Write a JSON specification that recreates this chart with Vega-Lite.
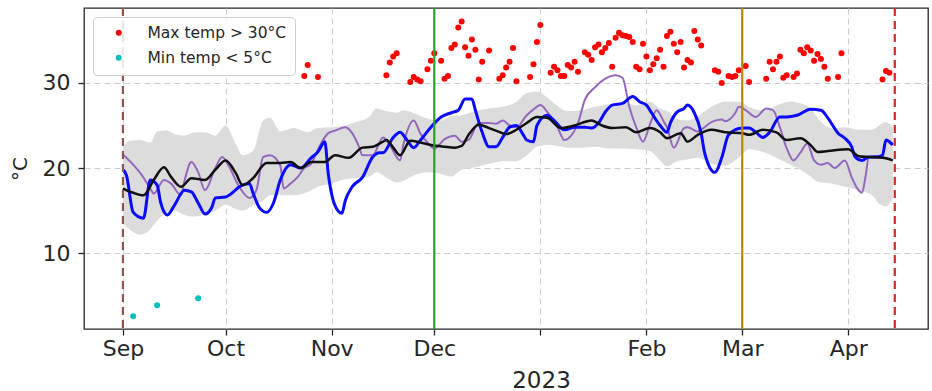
{
"$schema": "https://vega.github.io/schema/vega-lite/v6.json",
"width": 844, "height": 321,
"autosize": {"type": "none"},
"padding": {"left": 84, "top": 8, "right": 4, "bottom": 62},
"background": "white",
"config": {
  "view": {"stroke": "#262626", "strokeWidth": 1.3},
  "font": "DejaVu Sans",
  "axis": {"labelFont": "DejaVu Sans", "labelFontSize": 22, "labelColor": "#262626", "tickColor": "#262626", "tickSize": 6, "tickWidth": 1.3, "domain": false, "gridColor": "#cccccc", "gridDash": [6, 4], "gridWidth": 1, "titleFont": "DejaVu Sans", "titleFontWeight": "normal", "titleColor": "#262626"}
},
"resolve": {"scale": {"color": "independent", "strokeDash": "independent"}},
"datasets": {
"blue": [
{"date":"2022-09-01","t":19.8},{"date":"2022-09-02","t":19.2},{"date":"2022-09-04","t":14.8},{"date":"2022-09-07","t":14.1},{"date":"2022-09-09","t":18.6},{"date":"2022-09-11","t":18.0},{"date":"2022-09-12","t":16.0},{"date":"2022-09-14","t":14.5},{"date":"2022-09-16","t":15.6},{"date":"2022-09-19","t":17.4},{"date":"2022-09-21","t":17.2},{"date":"2022-09-23","t":15.9},{"date":"2022-09-25","t":14.6},{"date":"2022-09-27","t":15.4},{"date":"2022-09-28","t":16.5},{"date":"2022-10-01","t":16.6},{"date":"2022-10-03","t":17.1},{"date":"2022-10-05","t":17.8},{"date":"2022-10-08","t":18.2},{"date":"2022-10-09","t":17.1},{"date":"2022-10-11","t":15.3},{"date":"2022-10-13","t":14.8},{"date":"2022-10-15","t":15.9},{"date":"2022-10-17","t":18.6},{"date":"2022-10-20","t":20.4},{"date":"2022-10-23","t":20.0},{"date":"2022-10-26","t":21.2},{"date":"2022-10-28","t":21.9},{"date":"2022-10-30","t":23.1},{"date":"2022-10-31","t":19.4},{"date":"2022-11-02","t":15.6},{"date":"2022-11-04","t":14.7},{"date":"2022-11-05","t":16.2},{"date":"2022-11-07","t":17.8},{"date":"2022-11-10","t":18.9},{"date":"2022-11-13","t":21.3},{"date":"2022-11-15","t":21.8},{"date":"2022-11-16","t":21.8},{"date":"2022-11-19","t":23.6},{"date":"2022-11-21","t":24.2},{"date":"2022-11-23","t":23.3},{"date":"2022-11-25","t":22.4},{"date":"2022-11-27","t":23.3},{"date":"2022-11-30","t":24.8},{"date":"2022-12-03","t":26.0},{"date":"2022-12-06","t":26.5},{"date":"2022-12-08","t":26.8},{"date":"2022-12-10","t":28.1},{"date":"2022-12-12","t":28.1},{"date":"2022-12-13","t":26.8},{"date":"2022-12-15","t":24.2},{"date":"2022-12-17","t":22.5},{"date":"2022-12-19","t":22.5},{"date":"2022-12-21","t":23.6},{"date":"2022-12-23","t":24.8},{"date":"2022-12-25","t":25.0},{"date":"2022-12-27","t":23.9},{"date":"2022-12-28","t":23.3},{"date":"2022-12-30","t":23.1},{"date":"2022-12-31","t":25.0},{"date":"2023-01-03","t":26.2},{"date":"2023-01-05","t":25.6},{"date":"2023-01-08","t":24.5},{"date":"2023-01-11","t":24.8},{"date":"2023-01-14","t":24.8},{"date":"2023-01-16","t":24.7},{"date":"2023-01-18","t":25.3},{"date":"2023-01-20","t":26.6},{"date":"2023-01-22","t":27.4},{"date":"2023-01-25","t":27.6},{"date":"2023-01-28","t":28.4},{"date":"2023-01-30","t":27.8},{"date":"2023-02-01","t":27.4},{"date":"2023-02-02","t":26.8},{"date":"2023-02-05","t":25.0},{"date":"2023-02-07","t":24.2},{"date":"2023-02-08","t":25.3},{"date":"2023-02-10","t":26.6},{"date":"2023-02-12","t":27.0},{"date":"2023-02-13","t":27.4},{"date":"2023-02-15","t":26.5},{"date":"2023-02-17","t":24.1},{"date":"2023-02-18","t":21.8},{"date":"2023-02-21","t":19.5},{"date":"2023-02-23","t":21.2},{"date":"2023-02-25","t":23.9},{"date":"2023-03-01","t":24.7},{"date":"2023-03-03","t":24.7},{"date":"2023-03-05","t":24.2},{"date":"2023-03-07","t":23.6},{"date":"2023-03-09","t":24.2},{"date":"2023-03-12","t":26.0},{"date":"2023-03-14","t":26.0},{"date":"2023-03-17","t":26.2},{"date":"2023-03-21","t":26.9},{"date":"2023-03-24","t":26.8},{"date":"2023-03-26","t":25.9},{"date":"2023-03-29","t":24.1},{"date":"2023-03-31","t":23.5},{"date":"2023-04-02","t":22.5},{"date":"2023-04-03","t":21.3},{"date":"2023-04-05","t":20.9},{"date":"2023-04-07","t":21.3},{"date":"2023-04-09","t":21.3},{"date":"2023-04-11","t":21.5},{"date":"2023-04-12","t":23.3},{"date":"2023-04-13","t":23.1},{"date":"2023-04-14","t":22.7}
],
"purple": [
{"date":"2022-09-01","t":21.6},{"date":"2022-09-04","t":20.4},{"date":"2022-09-07","t":18.9},{"date":"2022-09-09","t":17.6},{"date":"2022-09-10","t":17.0},{"date":"2022-09-13","t":18.6},{"date":"2022-09-15","t":18.2},{"date":"2022-09-18","t":16.8},{"date":"2022-09-19","t":18.5},{"date":"2022-09-21","t":20.7},{"date":"2022-09-23","t":19.5},{"date":"2022-09-25","t":17.4},{"date":"2022-09-28","t":20.0},{"date":"2022-09-30","t":21.3},{"date":"2022-10-02","t":20.2},{"date":"2022-10-05","t":17.8},{"date":"2022-10-08","t":16.5},{"date":"2022-10-10","t":17.4},{"date":"2022-10-12","t":21.3},{"date":"2022-10-14","t":21.5},{"date":"2022-10-17","t":20.3},{"date":"2022-10-18","t":17.6},{"date":"2022-10-20","t":18.2},{"date":"2022-10-22","t":18.9},{"date":"2022-10-24","t":20.0},{"date":"2022-10-26","t":20.5},{"date":"2022-10-28","t":22.2},{"date":"2022-10-31","t":24.1},{"date":"2022-11-02","t":24.4},{"date":"2022-11-05","t":24.8},{"date":"2022-11-07","t":24.1},{"date":"2022-11-09","t":22.5},{"date":"2022-11-10","t":21.5},{"date":"2022-11-13","t":21.5},{"date":"2022-11-16","t":23.6},{"date":"2022-11-18","t":22.7},{"date":"2022-11-21","t":20.9},{"date":"2022-11-22","t":22.8},{"date":"2022-11-25","t":25.6},{"date":"2022-11-27","t":24.0},{"date":"2022-11-29","t":23.0},{"date":"2022-12-01","t":22.3},{"date":"2022-12-04","t":23.4},{"date":"2022-12-07","t":23.8},{"date":"2022-12-09","t":23.1},{"date":"2022-12-11","t":23.3},{"date":"2022-12-14","t":25.3},{"date":"2022-12-17","t":25.3},{"date":"2022-12-19","t":25.2},{"date":"2022-12-21","t":25.6},{"date":"2022-12-23","t":25.0},{"date":"2022-12-25","t":24.8},{"date":"2022-12-28","t":26.2},{"date":"2022-12-30","t":26.9},{"date":"2023-01-01","t":27.4},{"date":"2023-01-03","t":26.6},{"date":"2023-01-06","t":24.8},{"date":"2023-01-08","t":23.3},{"date":"2023-01-12","t":25.3},{"date":"2023-01-14","t":28.0},{"date":"2023-01-17","t":29.5},{"date":"2023-01-20","t":30.5},{"date":"2023-01-23","t":30.9},{"date":"2023-01-25","t":30.6},{"date":"2023-01-27","t":27.2},{"date":"2023-01-29","t":24.8},{"date":"2023-01-31","t":23.1},{"date":"2023-02-02","t":25.1},{"date":"2023-02-04","t":26.8},{"date":"2023-02-06","t":25.5},{"date":"2023-02-07","t":24.8},{"date":"2023-02-09","t":22.4},{"date":"2023-02-12","t":24.7},{"date":"2023-02-13","t":24.8},{"date":"2023-02-16","t":24.3},{"date":"2023-02-17","t":24.5},{"date":"2023-02-20","t":25.4},{"date":"2023-02-23","t":25.7},{"date":"2023-02-24","t":25.5},{"date":"2023-02-27","t":26.5},{"date":"2023-02-28","t":27.2},{"date":"2023-03-02","t":26.8},{"date":"2023-03-05","t":26.0},{"date":"2023-03-08","t":27.0},{"date":"2023-03-10","t":26.8},{"date":"2023-03-12","t":24.8},{"date":"2023-03-14","t":22.3},{"date":"2023-03-16","t":20.9},{"date":"2023-03-18","t":21.8},{"date":"2023-03-20","t":22.9},{"date":"2023-03-22","t":20.9},{"date":"2023-03-24","t":20.4},{"date":"2023-03-26","t":20.6},{"date":"2023-03-28","t":20.0},{"date":"2023-03-31","t":20.9},{"date":"2023-04-02","t":18.9},{"date":"2023-04-04","t":17.4},{"date":"2023-04-05","t":17.1},{"date":"2023-04-06","t":18.9},{"date":"2023-04-07","t":21.3},{"date":"2023-04-09","t":21.4},{"date":"2023-04-12","t":21.2},{"date":"2023-04-14","t":20.9}
],
"black": [
{"date":"2022-09-01","t":17.6},{"date":"2022-09-04","t":17.1},{"date":"2022-09-07","t":16.8},{"date":"2022-09-10","t":18.6},{"date":"2022-09-13","t":20.1},{"date":"2022-09-15","t":19.0},{"date":"2022-09-18","t":17.8},{"date":"2022-09-21","t":18.8},{"date":"2022-09-25","t":18.6},{"date":"2022-09-28","t":19.8},{"date":"2022-10-01","t":20.9},{"date":"2022-10-04","t":19.4},{"date":"2022-10-06","t":18.0},{"date":"2022-10-09","t":18.8},{"date":"2022-10-13","t":20.6},{"date":"2022-10-17","t":20.6},{"date":"2022-10-20","t":20.7},{"date":"2022-10-23","t":20.0},{"date":"2022-10-26","t":20.7},{"date":"2022-10-30","t":20.7},{"date":"2022-11-02","t":21.5},{"date":"2022-11-06","t":21.2},{"date":"2022-11-10","t":22.4},{"date":"2022-11-13","t":22.5},{"date":"2022-11-16","t":23.1},{"date":"2022-11-17","t":23.3},{"date":"2022-11-19","t":22.4},{"date":"2022-11-21","t":21.5},{"date":"2022-11-24","t":23.2},{"date":"2022-11-27","t":23.0},{"date":"2022-11-30","t":22.7},{"date":"2022-12-04","t":22.5},{"date":"2022-12-07","t":22.4},{"date":"2022-12-09","t":22.6},{"date":"2022-12-11","t":23.9},{"date":"2022-12-14","t":25.1},{"date":"2022-12-17","t":24.7},{"date":"2022-12-19","t":24.4},{"date":"2022-12-22","t":24.0},{"date":"2022-12-25","t":24.5},{"date":"2022-12-28","t":25.3},{"date":"2022-12-31","t":26.0},{"date":"2023-01-03","t":25.9},{"date":"2023-01-07","t":24.7},{"date":"2023-01-11","t":25.0},{"date":"2023-01-16","t":25.6},{"date":"2023-01-19","t":25.0},{"date":"2023-01-22","t":24.7},{"date":"2023-01-26","t":24.8},{"date":"2023-01-29","t":24.2},{"date":"2023-02-02","t":24.7},{"date":"2023-02-05","t":24.2},{"date":"2023-02-07","t":23.5},{"date":"2023-02-11","t":24.1},{"date":"2023-02-13","t":23.1},{"date":"2023-02-16","t":23.9},{"date":"2023-02-20","t":24.5},{"date":"2023-02-24","t":24.2},{"date":"2023-03-01","t":24.1},{"date":"2023-03-03","t":23.9},{"date":"2023-03-07","t":24.5},{"date":"2023-03-11","t":24.2},{"date":"2023-03-14","t":23.3},{"date":"2023-03-18","t":23.5},{"date":"2023-03-21","t":22.7},{"date":"2023-03-23","t":21.9},{"date":"2023-03-26","t":22.0},{"date":"2023-04-01","t":22.2},{"date":"2023-04-04","t":21.4},{"date":"2023-04-07","t":21.3},{"date":"2023-04-11","t":21.2},{"date":"2023-04-14","t":20.9}
],
"band": [
{"date":"2022-09-01","lo":13.5,"hi":22.5},{"date":"2022-09-03","lo":12.8,"hi":23.2},{"date":"2022-09-06","lo":12.2,"hi":23.3},{"date":"2022-09-09","lo":12.8,"hi":23.0},{"date":"2022-09-11","lo":13.8,"hi":24.3},{"date":"2022-09-14","lo":14.8,"hi":24.4},{"date":"2022-09-16","lo":15.0,"hi":24.0},{"date":"2022-09-19","lo":14.5,"hi":23.8},{"date":"2022-09-22","lo":14.3,"hi":24.2},{"date":"2022-09-25","lo":14.6,"hi":24.2},{"date":"2022-09-28","lo":15.0,"hi":23.8},{"date":"2022-10-01","lo":15.7,"hi":25.0},{"date":"2022-10-04","lo":15.2,"hi":22.8},{"date":"2022-10-06","lo":15.0,"hi":21.5},{"date":"2022-10-09","lo":15.6,"hi":22.0},{"date":"2022-10-12","lo":16.2,"hi":25.6},{"date":"2022-10-14","lo":16.8,"hi":25.9},{"date":"2022-10-17","lo":16.8,"hi":24.3},{"date":"2022-10-21","lo":16.8,"hi":24.7},{"date":"2022-10-25","lo":17.2,"hi":24.2},{"date":"2022-10-28","lo":17.8,"hi":24.7},{"date":"2022-11-01","lo":18.2,"hi":24.8},{"date":"2022-11-04","lo":18.6,"hi":24.9},{"date":"2022-11-08","lo":18.8,"hi":25.4},{"date":"2022-11-12","lo":19.0,"hi":26.0},{"date":"2022-11-14","lo":19.5,"hi":27.0},{"date":"2022-11-17","lo":18.9,"hi":26.7},{"date":"2022-11-20","lo":18.3,"hi":26.5},{"date":"2022-11-22","lo":18.5,"hi":26.8},{"date":"2022-11-26","lo":19.3,"hi":26.3},{"date":"2022-11-29","lo":19.5,"hi":25.8},{"date":"2022-12-03","lo":19.3,"hi":25.6},{"date":"2022-12-06","lo":19.0,"hi":26.1},{"date":"2022-12-09","lo":19.8,"hi":26.2},{"date":"2022-12-13","lo":20.1,"hi":26.7},{"date":"2022-12-17","lo":20.5,"hi":27.0},{"date":"2022-12-21","lo":20.8,"hi":27.2},{"date":"2022-12-25","lo":20.8,"hi":27.8},{"date":"2022-12-28","lo":21.5,"hi":28.8},{"date":"2022-12-31","lo":22.5,"hi":29.0},{"date":"2023-01-03","lo":22.7,"hi":28.3},{"date":"2023-01-06","lo":22.6,"hi":27.3},{"date":"2023-01-09","lo":22.4,"hi":26.7},{"date":"2023-01-13","lo":22.4,"hi":26.8},{"date":"2023-01-17","lo":22.5,"hi":27.2},{"date":"2023-01-21","lo":22.3,"hi":27.5},{"date":"2023-01-25","lo":22.3,"hi":27.7},{"date":"2023-01-29","lo":22.2,"hi":27.4},{"date":"2023-02-02","lo":22.0,"hi":27.8},{"date":"2023-02-05","lo":20.9,"hi":27.0},{"date":"2023-02-07","lo":20.2,"hi":26.7},{"date":"2023-02-10","lo":20.8,"hi":25.8},{"date":"2023-02-13","lo":21.0,"hi":25.6},{"date":"2023-02-16","lo":21.2,"hi":26.1},{"date":"2023-02-20","lo":20.5,"hi":27.2},{"date":"2023-02-24","lo":20.3,"hi":27.8},{"date":"2023-02-28","lo":21.2,"hi":27.8},{"date":"2023-03-03","lo":22.2,"hi":27.2},{"date":"2023-03-06","lo":22.0,"hi":26.8},{"date":"2023-03-09","lo":21.6,"hi":27.0},{"date":"2023-03-12","lo":21.0,"hi":27.5},{"date":"2023-03-15","lo":20.4,"hi":27.8},{"date":"2023-03-18","lo":19.8,"hi":27.6},{"date":"2023-03-21","lo":19.0,"hi":27.0},{"date":"2023-03-23","lo":18.4,"hi":25.9},{"date":"2023-03-27","lo":18.2,"hi":24.7},{"date":"2023-03-31","lo":17.8,"hi":24.8},{"date":"2023-04-04","lo":17.4,"hi":24.5},{"date":"2023-04-08","lo":16.8,"hi":24.5},{"date":"2023-04-10","lo":15.8,"hi":25.0},{"date":"2023-04-12","lo":15.5,"hi":25.4},{"date":"2023-04-14","lo":16.5,"hi":24.8}
],
"dots": [
{"date":"2022-10-24","t":30.8,"kind":"Max temp > 30°C"},{"date":"2022-10-25","t":32.1,"kind":"Max temp > 30°C"},{"date":"2022-10-28","t":30.7,"kind":"Max temp > 30°C"},
{"date":"2022-11-17","t":30.9,"kind":"Max temp > 30°C"},{"date":"2022-11-18","t":32.4,"kind":"Max temp > 30°C"},{"date":"2022-11-19","t":33.1,"kind":"Max temp > 30°C"},{"date":"2022-11-20","t":33.5,"kind":"Max temp > 30°C"},{"date":"2022-11-24","t":30.1,"kind":"Max temp > 30°C"},{"date":"2022-11-25","t":30.7,"kind":"Max temp > 30°C"},{"date":"2022-11-26","t":30.4,"kind":"Max temp > 30°C"},{"date":"2022-11-27","t":30.2,"kind":"Max temp > 30°C"},{"date":"2022-11-29","t":31.6,"kind":"Max temp > 30°C"},{"date":"2022-11-30","t":32.6,"kind":"Max temp > 30°C"},
{"date":"2022-12-01","t":33.5,"kind":"Max temp > 30°C"},{"date":"2022-12-03","t":32.6,"kind":"Max temp > 30°C"},{"date":"2022-12-04","t":30.5,"kind":"Max temp > 30°C"},{"date":"2022-12-05","t":30.8,"kind":"Max temp > 30°C"},{"date":"2022-12-06","t":34.1,"kind":"Max temp > 30°C"},{"date":"2022-12-07","t":34.5,"kind":"Max temp > 30°C"},{"date":"2022-12-08","t":36.5,"kind":"Max temp > 30°C"},{"date":"2022-12-09","t":37.2,"kind":"Max temp > 30°C"},{"date":"2022-12-10","t":34.2,"kind":"Max temp > 30°C"},{"date":"2022-12-11","t":33.2,"kind":"Max temp > 30°C"},{"date":"2022-12-12","t":35.1,"kind":"Max temp > 30°C"},{"date":"2022-12-13","t":33.9,"kind":"Max temp > 30°C"},{"date":"2022-12-14","t":30.4,"kind":"Max temp > 30°C"},{"date":"2022-12-15","t":32.5,"kind":"Max temp > 30°C"},{"date":"2022-12-17","t":33.8,"kind":"Max temp > 30°C"},{"date":"2022-12-20","t":30.5,"kind":"Max temp > 30°C"},{"date":"2022-12-21","t":30.9,"kind":"Max temp > 30°C"},{"date":"2022-12-22","t":31.8,"kind":"Max temp > 30°C"},{"date":"2022-12-23","t":32.5,"kind":"Max temp > 30°C"},{"date":"2022-12-24","t":34.1,"kind":"Max temp > 30°C"},{"date":"2022-12-25","t":30.2,"kind":"Max temp > 30°C"},{"date":"2022-12-29","t":30.7,"kind":"Max temp > 30°C"},{"date":"2022-12-30","t":32.2,"kind":"Max temp > 30°C"},{"date":"2022-12-31","t":34.8,"kind":"Max temp > 30°C"},
{"date":"2023-01-01","t":36.8,"kind":"Max temp > 30°C"},{"date":"2023-01-04","t":31.2,"kind":"Max temp > 30°C"},{"date":"2023-01-05","t":31.9,"kind":"Max temp > 30°C"},{"date":"2023-01-06","t":31.5,"kind":"Max temp > 30°C"},{"date":"2023-01-07","t":30.8,"kind":"Max temp > 30°C"},{"date":"2023-01-08","t":30.8,"kind":"Max temp > 30°C"},{"date":"2023-01-09","t":32.1,"kind":"Max temp > 30°C"},{"date":"2023-01-10","t":31.8,"kind":"Max temp > 30°C"},{"date":"2023-01-11","t":32.5,"kind":"Max temp > 30°C"},{"date":"2023-01-12","t":31.3,"kind":"Max temp > 30°C"},{"date":"2023-01-14","t":33.6,"kind":"Max temp > 30°C"},{"date":"2023-01-15","t":33.3,"kind":"Max temp > 30°C"},{"date":"2023-01-16","t":32.7,"kind":"Max temp > 30°C"},{"date":"2023-01-17","t":34.2,"kind":"Max temp > 30°C"},{"date":"2023-01-18","t":34.5,"kind":"Max temp > 30°C"},{"date":"2023-01-19","t":33.6,"kind":"Max temp > 30°C"},{"date":"2023-01-20","t":34.1,"kind":"Max temp > 30°C"},{"date":"2023-01-21","t":34.7,"kind":"Max temp > 30°C"},{"date":"2023-01-22","t":31.9,"kind":"Max temp > 30°C"},{"date":"2023-01-23","t":35.3,"kind":"Max temp > 30°C"},{"date":"2023-01-24","t":35.9,"kind":"Max temp > 30°C"},{"date":"2023-01-25","t":35.6,"kind":"Max temp > 30°C"},{"date":"2023-01-26","t":35.5,"kind":"Max temp > 30°C"},{"date":"2023-01-27","t":35.4,"kind":"Max temp > 30°C"},{"date":"2023-01-28","t":34.8,"kind":"Max temp > 30°C"},{"date":"2023-01-29","t":31.9,"kind":"Max temp > 30°C"},{"date":"2023-01-30","t":31.6,"kind":"Max temp > 30°C"},{"date":"2023-01-31","t":34.6,"kind":"Max temp > 30°C"},
{"date":"2023-02-01","t":33.1,"kind":"Max temp > 30°C"},{"date":"2023-02-02","t":31.5,"kind":"Max temp > 30°C"},{"date":"2023-02-03","t":32.2,"kind":"Max temp > 30°C"},{"date":"2023-02-04","t":32.9,"kind":"Max temp > 30°C"},{"date":"2023-02-05","t":33.9,"kind":"Max temp > 30°C"},{"date":"2023-02-06","t":31.9,"kind":"Max temp > 30°C"},{"date":"2023-02-07","t":35.5,"kind":"Max temp > 30°C"},{"date":"2023-02-08","t":36.0,"kind":"Max temp > 30°C"},{"date":"2023-02-09","t":34.6,"kind":"Max temp > 30°C"},{"date":"2023-02-10","t":33.6,"kind":"Max temp > 30°C"},{"date":"2023-02-11","t":34.8,"kind":"Max temp > 30°C"},{"date":"2023-02-12","t":31.8,"kind":"Max temp > 30°C"},{"date":"2023-02-13","t":32.7,"kind":"Max temp > 30°C"},{"date":"2023-02-14","t":32.4,"kind":"Max temp > 30°C"},{"date":"2023-02-15","t":36.1,"kind":"Max temp > 30°C"},{"date":"2023-02-16","t":35.1,"kind":"Max temp > 30°C"},{"date":"2023-02-17","t":34.4,"kind":"Max temp > 30°C"},{"date":"2023-02-21","t":31.5,"kind":"Max temp > 30°C"},{"date":"2023-02-22","t":31.3,"kind":"Max temp > 30°C"},{"date":"2023-02-23","t":30.0,"kind":"Max temp > 30°C"},{"date":"2023-02-25","t":30.8,"kind":"Max temp > 30°C"},{"date":"2023-02-26","t":30.7,"kind":"Max temp > 30°C"},{"date":"2023-02-27","t":30.8,"kind":"Max temp > 30°C"},{"date":"2023-02-28","t":31.5,"kind":"Max temp > 30°C"},
{"date":"2023-03-02","t":32.0,"kind":"Max temp > 30°C"},{"date":"2023-03-03","t":30.1,"kind":"Max temp > 30°C"},{"date":"2023-03-08","t":30.5,"kind":"Max temp > 30°C"},{"date":"2023-03-09","t":32.5,"kind":"Max temp > 30°C"},{"date":"2023-03-10","t":31.6,"kind":"Max temp > 30°C"},{"date":"2023-03-11","t":32.5,"kind":"Max temp > 30°C"},{"date":"2023-03-12","t":33.1,"kind":"Max temp > 30°C"},{"date":"2023-03-13","t":30.6,"kind":"Max temp > 30°C"},{"date":"2023-03-14","t":30.9,"kind":"Max temp > 30°C"},{"date":"2023-03-16","t":30.7,"kind":"Max temp > 30°C"},{"date":"2023-03-17","t":31.1,"kind":"Max temp > 30°C"},{"date":"2023-03-18","t":33.9,"kind":"Max temp > 30°C"},{"date":"2023-03-19","t":33.5,"kind":"Max temp > 30°C"},{"date":"2023-03-20","t":34.2,"kind":"Max temp > 30°C"},{"date":"2023-03-21","t":33.8,"kind":"Max temp > 30°C"},{"date":"2023-03-22","t":32.6,"kind":"Max temp > 30°C"},{"date":"2023-03-23","t":33.4,"kind":"Max temp > 30°C"},{"date":"2023-03-24","t":32.8,"kind":"Max temp > 30°C"},{"date":"2023-03-25","t":31.9,"kind":"Max temp > 30°C"},{"date":"2023-03-26","t":30.5,"kind":"Max temp > 30°C"},{"date":"2023-03-29","t":30.7,"kind":"Max temp > 30°C"},{"date":"2023-03-30","t":33.5,"kind":"Max temp > 30°C"},
{"date":"2023-04-11","t":30.4,"kind":"Max temp > 30°C"},{"date":"2023-04-12","t":31.4,"kind":"Max temp > 30°C"},{"date":"2023-04-13","t":31.2,"kind":"Max temp > 30°C"},
{"date":"2022-09-04","t":2.6,"kind":"Min temp < 5°C"},{"date":"2022-09-11","t":3.9,"kind":"Min temp < 5°C"},{"date":"2022-09-23","t":4.7,"kind":"Min temp < 5°C"}
],
"events": [
{"date":"2022-09-01T00:00:00Z","event":"start"},{"date":"2022-12-01T00:00:00Z","event":"summer"},{"date":"2023-03-01T00:00:00Z","event":"autumn"},{"date":"2023-04-14T14:00:00Z","event":"end"}
]
},
"encoding": {
  "x": {"field": "date", "type": "temporal",
    "scale": {"type": "utc", "domain": [{"year": 2022, "month": 8, "date": 20, "hours": 15, "utc": true}, {"year": 2023, "month": 4, "date": 24, "hours": 7, "utc": true}]},
    "axis": {"values": [{"year":2022,"month":9,"date":1,"utc":true},{"year":2022,"month":10,"date":1,"utc":true},{"year":2022,"month":11,"date":1,"utc":true},{"year":2022,"month":12,"date":1,"utc":true},{"year":2023,"month":1,"date":1,"utc":true},{"year":2023,"month":2,"date":1,"utc":true},{"year":2023,"month":3,"date":1,"utc":true},{"year":2023,"month":4,"date":1,"utc":true}],
      "labelExpr": "utcmonth(datum.value) == 0 ? '' : utcFormat(datum.value, '%b')",
      "labelPadding": 3, "labelFlush": false, "labelOverlap": false,
      "title": "2023", "titleFontSize": 23, "titleX": 457, "titleY": 58, "titleBaseline": "alphabetic", "titleAlign": "center"}}
},
"layer": [
  {"data": {"name": "band"}, "mark": {"type": "area", "color": "#dcdcdc", "opacity": 1, "interpolate": "monotone"},
   "encoding": {"y": {"field": "lo", "type": "quantitative", "scale": {"domain": [1.1, 38.8], "nice": false, "zero": false}, "axis": {"values": [10, 20, 30], "title": "°C", "titleFontSize": 20, "titlePadding": 12, "labelPadding": 8}}, "y2": {"field": "hi"}}},
  {"data": {"name": "purple"}, "mark": {"type": "line", "color": "#9467bd", "strokeWidth": 2, "interpolate": "monotone"},
   "encoding": {"y": {"field": "t", "type": "quantitative"}}},
  {"data": {"name": "blue"}, "mark": {"type": "line", "color": "#0a0aff", "strokeWidth": 3, "interpolate": "monotone"},
   "encoding": {"y": {"field": "t", "type": "quantitative"}}},
  {"data": {"name": "black"}, "mark": {"type": "line", "color": "#111111", "strokeWidth": 2.5, "interpolate": "monotone"},
   "encoding": {"y": {"field": "t", "type": "quantitative"}}},
  {"data": {"name": "dots"}, "mark": {"type": "point", "filled": true, "size": 36, "opacity": 1},
   "encoding": {"y": {"field": "t", "type": "quantitative"},
     "color": {"field": "kind", "type": "nominal", "scale": {"domain": ["Max temp > 30°C", "Min temp < 5°C"], "range": ["#ff0000", "#00bfbf"]},
       "legend": {"orient": "top-left", "offset": 9, "title": null, "labelFont": "DejaVu Sans", "labelFontSize": 15.5, "labelColor": "#262626", "symbolSize": 36, "symbolType": "circle", "symbolStrokeWidth": 0, "strokeColor": "#cccccc", "fillColor": "rgba(255,255,255,0.85)", "cornerRadius": 4, "padding": 8, "rowPadding": 8, "symbolOffset": 10, "labelOffset": 21}}}},
  {"data": {"name": "events"}, "mark": {"type": "rule", "strokeWidth": 2.2},
   "encoding": {
     "color": {"field": "event", "type": "nominal", "scale": {"domain": ["start", "summer", "autumn", "end"], "range": ["#8c564b", "#2ca02c", "#b8860b", "#d62728"]}, "legend": null},
     "strokeDash": {"field": "event", "type": "nominal", "scale": {"domain": ["start", "summer", "autumn", "end"], "range": [[8, 5], [1, 0], [1, 0], [8, 5]]}, "legend": null}}}
]
}
